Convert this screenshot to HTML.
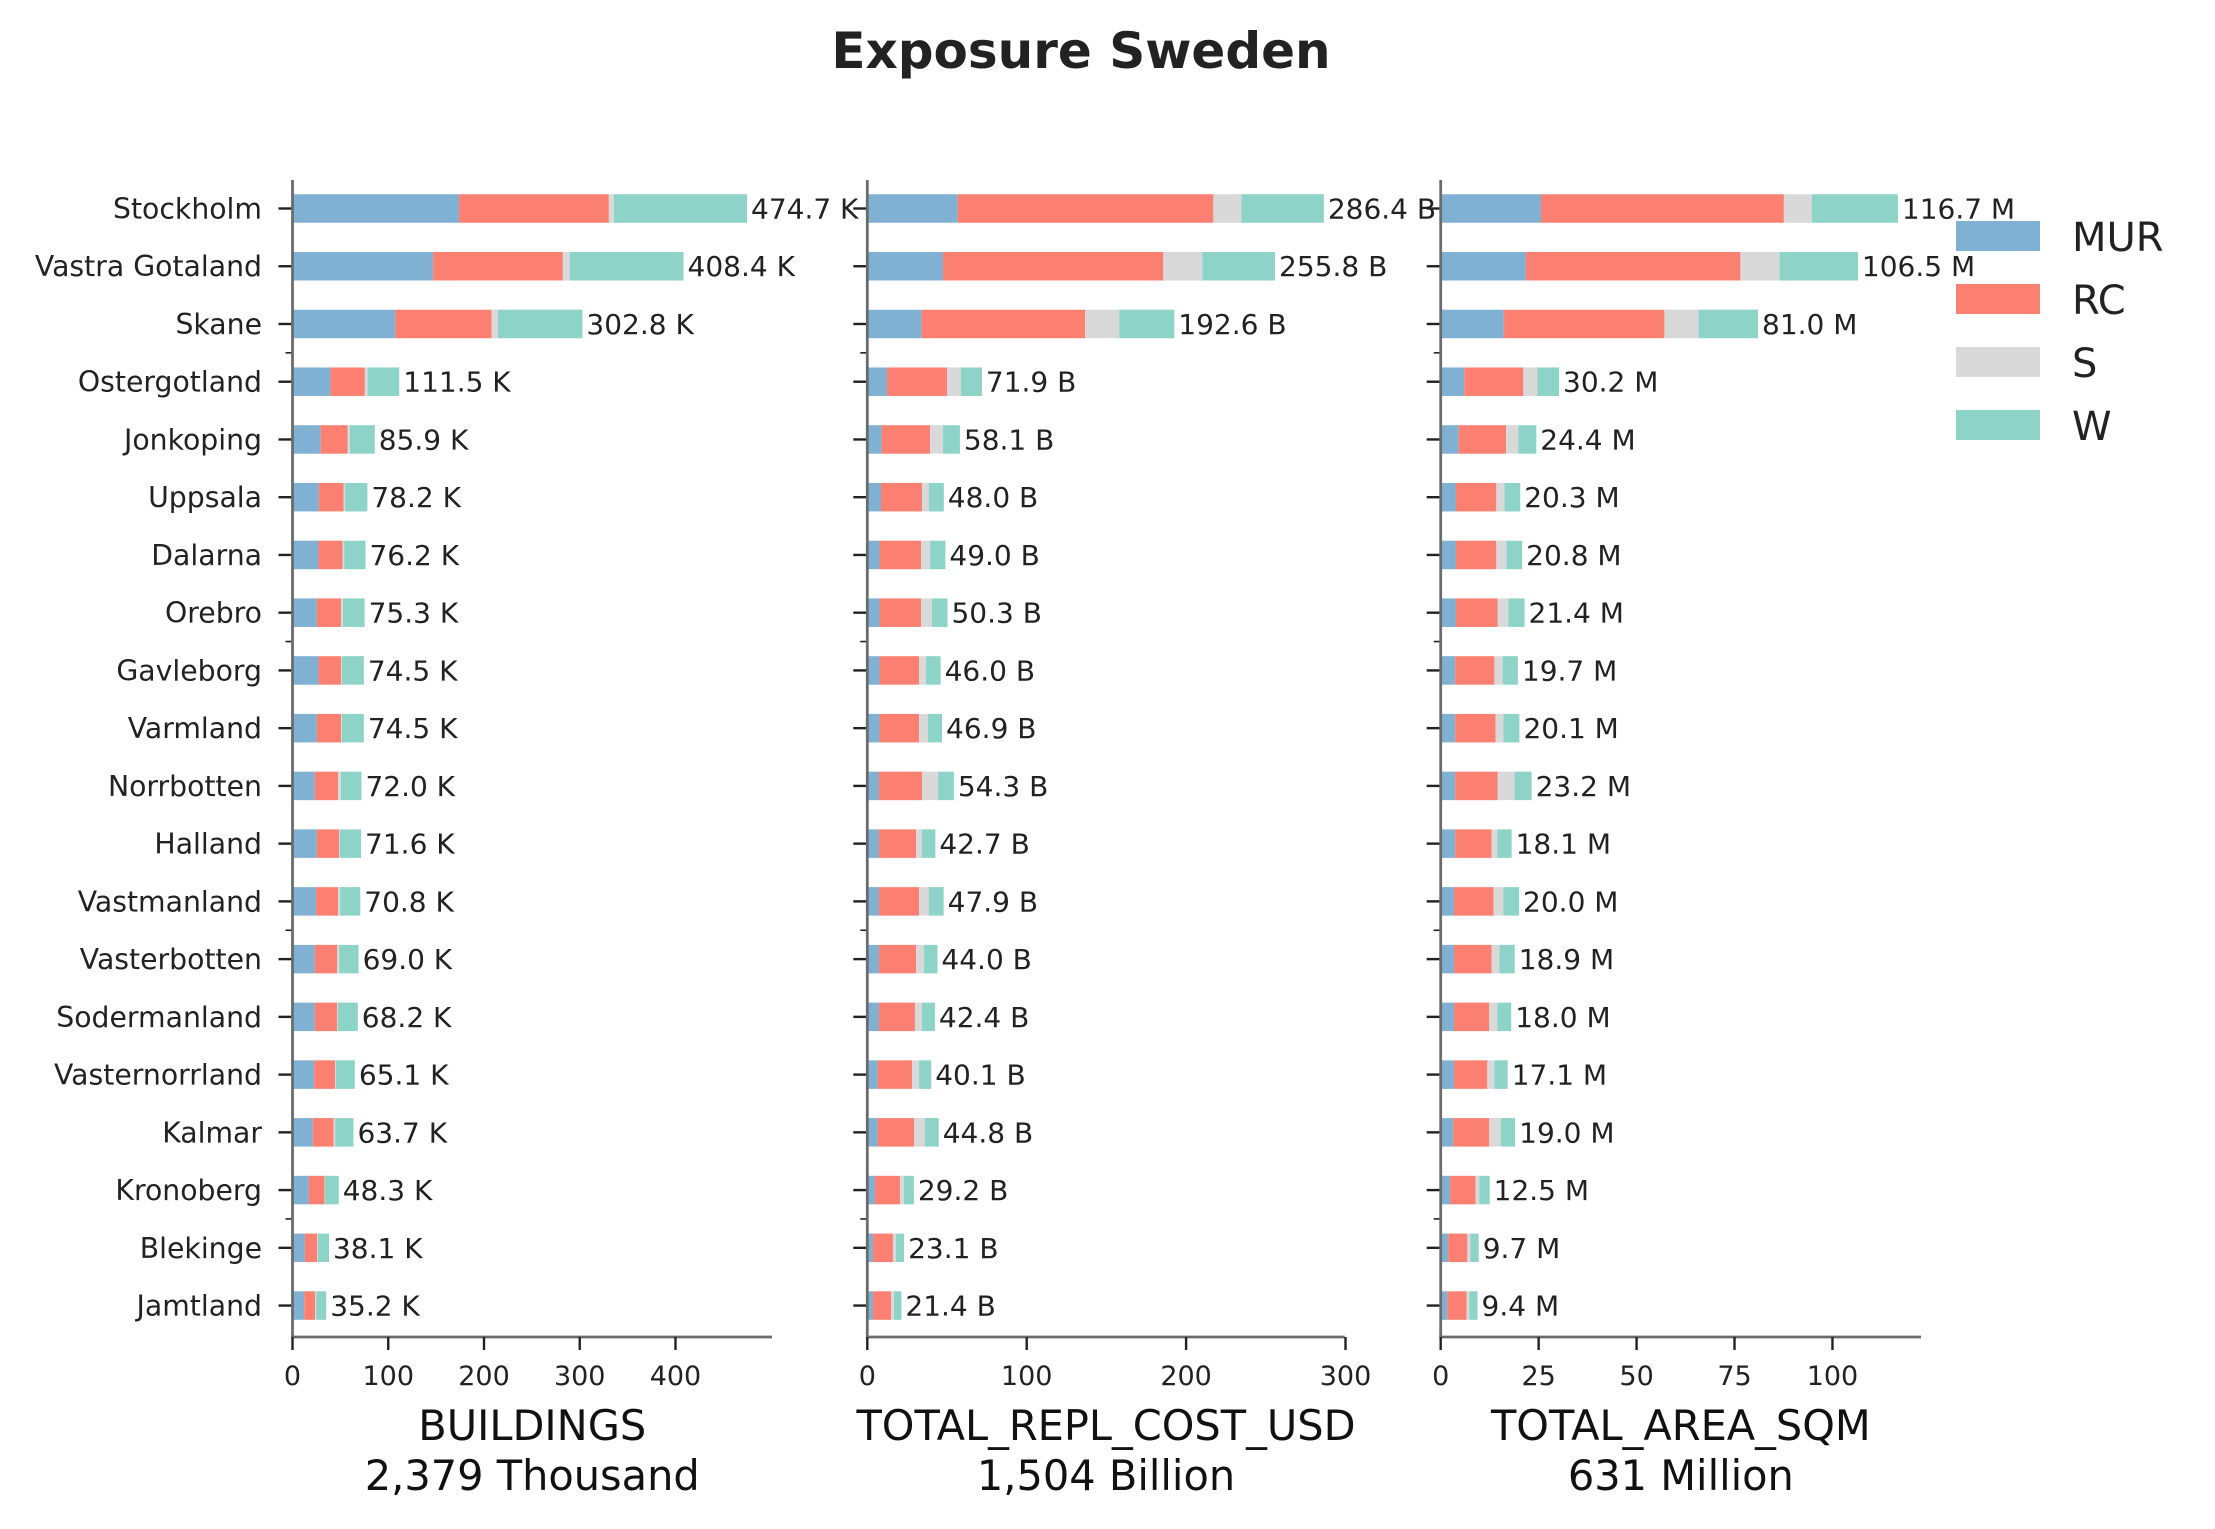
<!DOCTYPE html>
<html><head><meta charset="utf-8"><style>
html,body{margin:0;padding:0;background:#fff;}
svg{display:block;font-family:"DejaVu Sans","Liberation Sans",sans-serif;}
</style></head><body>
<svg id="chart" width="2215" height="1529" viewBox="0 0 2215 1529" xmlns="http://www.w3.org/2000/svg">
<rect width="2215" height="1529" fill="#fff"/>
<text x="1081" y="68" font-size="50" font-weight="bold" fill="#222" text-anchor="middle">Exposure Sweden</text>
<g id="plots"></g>
<g id="legend"></g>
</svg>
<script>
const regions = ["Stockholm","Vastra Gotaland","Skane","Ostergotland","Jonkoping","Uppsala","Dalarna","Orebro","Gavleborg","Varmland","Norrbotten","Halland","Vastmanland","Vasterbotten","Sodermanland","Vasternorrland","Kalmar","Kronoberg","Blekinge","Jamtland"];
const classes = ["MUR","RC","S","W"];
const colors = ["#80b1d3","#fb8072","#d9d9d9","#8dd3c7"];

// BUILDINGS (thousand)
const bMUR = [174.0,146.9,107.3,39.6,29.4,27.5,27.2,25.4,27.2,25.4,23.3,25.4,24.7,23.3,23.3,22.6,21.2,17.1,12.9,12.2];
const bRC  = [156.4,135.5,100.7,35.9,28.2,25.8,25.0,25.4,23.6,25.4,24.4,23.3,23.0,23.3,23.3,22.0,21.6,16.3,12.9,11.5];
const bS   = [5.3,7.2,6.6,3.0,2.4,1.7,1.8,1.8,0.7,0.7,2.8,0.7,2.1,2.1,0.7,0.7,1.8,0.7,0.7,1.0];
const bW   = [139.0,118.8,88.2,33.0,25.9,23.2,22.2,22.7,23.0,23.0,21.5,22.2,21.0,20.3,20.9,19.8,19.1,14.2,11.6,10.5];

// TOTAL_REPL_COST_USD (billion)
const cMUR = [56.7,47.5,34.1,12.4,9.0,8.6,7.7,7.7,7.7,7.7,7.3,7.3,7.3,7.3,7.3,6.5,6.5,4.8,3.6,3.6];
const cRC  = [160.4,138.2,102.6,37.6,30.4,25.7,26.0,26.0,24.8,24.8,27.0,23.3,25.2,23.3,22.6,21.6,22.8,15.7,12.5,11.3];
const cS   = [17.6,24.5,21.4,8.8,8.1,4.4,5.7,6.9,4.4,5.6,10.1,3.7,6.2,5.0,4.4,4.4,6.9,2.5,1.9,1.9];
const cW   = [51.7,45.6,34.5,13.1,10.6,9.3,9.6,9.7,9.1,8.8,9.9,8.4,9.2,8.4,8.1,7.6,8.6,6.2,5.1,4.6];

// TOTAL_AREA_SQM (million)
const aMUR = [25.6,21.7,16.1,6.0,4.6,3.9,3.9,3.9,3.7,3.7,3.7,3.7,3.4,3.4,3.4,3.4,3.2,2.4,1.9,1.7];
const aRC  = [62.0,54.8,41.0,15.1,12.1,10.3,10.3,10.6,10.0,10.3,10.8,9.3,10.1,9.6,9.0,8.5,9.2,6.5,4.9,4.9];
const aS   = [7.1,10.0,8.7,3.6,3.1,2.1,2.6,2.8,2.1,2.0,4.3,1.5,2.5,2.0,2.1,1.8,2.9,1.0,0.8,0.7];
const aW   = [22.0,20.0,15.2,5.5,4.6,4.0,4.0,4.1,3.9,4.1,4.4,3.6,4.0,3.9,3.5,3.4,3.7,2.6,2.1,2.1];

const bTicks = [0,100,200,300,400];
const cTicks = [0,100,200,300];
const aTicks = [0,25,50,75,100];
const titles = ["BUILDINGS","TOTAL_REPL_COST_USD","TOTAL_AREA_SQM"];
const subtitles = ["2,379 Thousand","1,504 Billion","631 Million"];
const suffixes = ["K","B","M"];
const xMaxes = [500.8, 299.5, 122.6];

const NS = "http://www.w3.org/2000/svg";
const plots = document.getElementById('plots');
function mk(tag, attrs, parent){
  const e = document.createElementNS(NS, tag);
  for (const k in attrs) e.setAttribute(k, attrs[k]);
  parent.appendChild(e);
  return e;
}
const panels = [
  {x0:292.5, x1:772, series:[bMUR,bRC,bS,bW], ticks:bTicks},
  {x0:867.3, x1:1344.7, series:[cMUR,cRC,cS,cW], ticks:cTicks},
  {x0:1440.7, x1:1921, series:[aMUR,aRC,aS,aW], ticks:aTicks}
];
const yTop = 180, yBot = 1337, row0 = 208.5, rowStep = 57.74, barH = 28.5;
function yPos(i){ return row0 + i*rowStep; }

panels.forEach((p, pi) => {
  const g = mk('g', {}, plots);
  
  
  const xs = v => p.x0 + (v / xMaxes[pi]) * (p.x1 - p.x0);
  regions.forEach((r, i) => {
    let cum = 0;
    const yc = yPos(i);
    p.series.forEach((s, si) => {
      const v = s[i];
      const rect = mk('rect', {x: xs(cum), y: yc - barH/2, width: Math.max(0, xs(cum+v) - xs(cum)), height: barH, fill: colors[si]}, g);
      
      
      cum += v;
    });
    const lbl = mk('text', {x: xs(cum) + 4, y: yc + 10, 'font-size': 28, fill: '#222'}, g);
    
    
    lbl.textContent = cum.toFixed(1) + ' ' + suffixes[pi];
    const t = mk('line', {x1: p.x0 - 14, x2: p.x0, y1: yc, y2: yc, stroke: '#222', 'stroke-width': 2.4}, g);
    
    
    if (pi === 0) {
      const yl = mk('text', {x: 262, y: yc + 10, 'font-size': 28.3, fill: '#222', 'text-anchor': 'end'}, g);
      
      
      yl.textContent = r;
    }
  });
  [2.5, 7.5, 12.5, 17.5].forEach(m => {
    const mt = mk('line', {x1: p.x0 - 7, x2: p.x0, y1: yPos(m), y2: yPos(m), stroke: '#222', 'stroke-width': 1.6}, g);
    
    
  });
  const ls = mk('line', {x1: p.x0, x2: p.x0, y1: yTop, y2: yBot, stroke: '#6b6b6b', 'stroke-width': 2.8}, g);
  
  
  const bs = mk('line', {x1: p.x0 - 1.4, x2: p.x1, y1: yBot, y2: yBot, stroke: '#6b6b6b', 'stroke-width': 2.8}, g);
  
  
  p.ticks.forEach(tv => {
    const tx = xs(tv);
    const tk = mk('line', {x1: tx, x2: tx, y1: yBot, y2: yBot + 13, stroke: '#222', 'stroke-width': 2.4}, g);
    
    
    const tl = mk('text', {x: tx, y: 1385, 'font-size': 27, fill: '#222', 'text-anchor': 'middle'}, g);
    
    
    tl.textContent = tv;
  });
  const cx = (p.x0 + p.x1) / 2;
  const t1 = mk('text', {x: cx, y: 1440, 'font-size': 41.5, fill: '#111', 'text-anchor': 'middle'}, g);
  
  
  t1.textContent = titles[pi];
  const t2 = mk('text', {x: cx, y: 1490, 'font-size': 41.5, fill: '#111', 'text-anchor': 'middle'}, g);
  
  
  t2.textContent = subtitles[pi];
});

const legend = document.getElementById('legend');
classes.forEach((c, i) => {
  const y = 221 + i * 63;
  const r = mk('rect', {x: 1956, y: y, width: 84, height: 30, fill: colors[i]}, legend);
  
  
  const t = mk('text', {x: 2072, y: y + 30, 'font-size': 40, fill: '#222'}, legend);
  
  
  t.textContent = c;
});
</script>
</body></html>
